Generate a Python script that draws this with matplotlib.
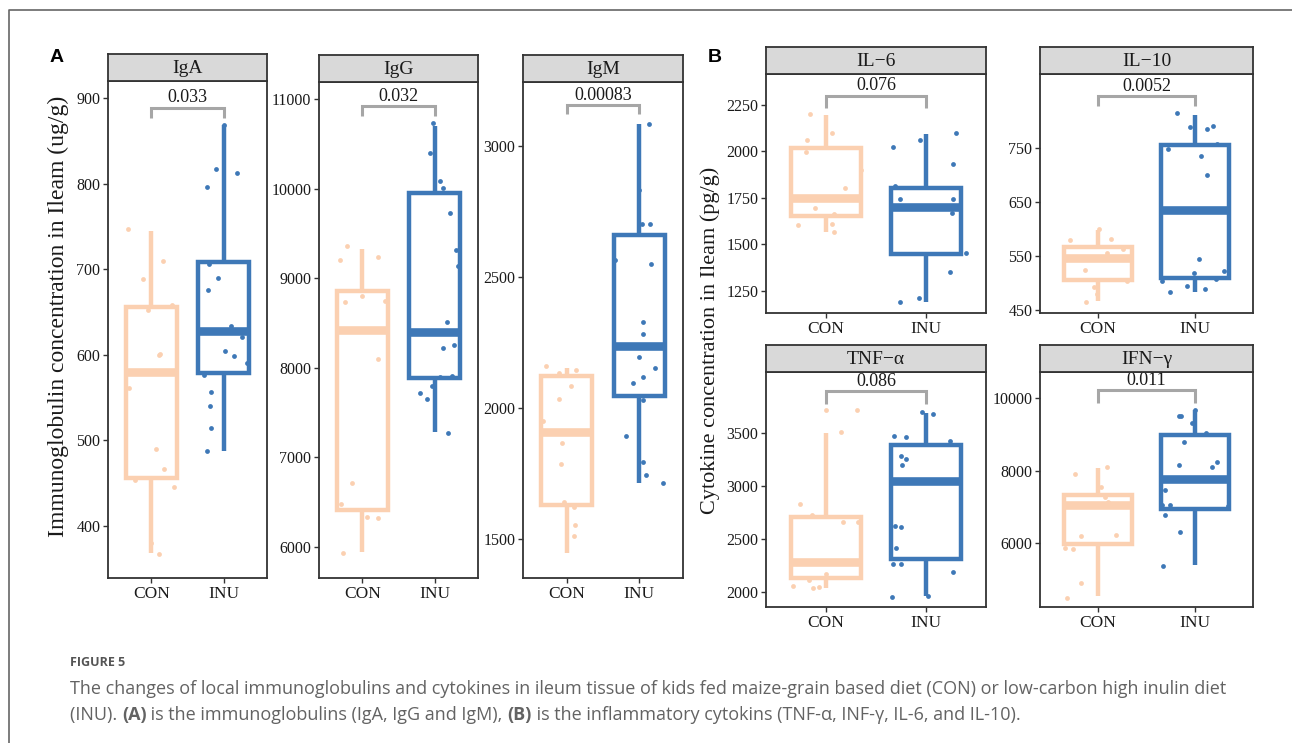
import matplotlib
matplotlib.use("Agg")
import matplotlib.pyplot as plt
from matplotlib.lines import Line2D

# ---------------- data ----------------
groups = ["CON", "INU"]

# box stats: [whislo, q1, median, q3, whishi]
iga_con_box = [368, 456, 580, 656, 745]
iga_inu_box = [488, 579, 628, 708, 868]
iga_con_pts = [747, 710, 688, 652, 658, 600, 601, 561, 490, 466, 453, 445, 380, 367]
iga_con_dx = [-0.33, 0.16, -0.12, -0.05, 0.29, 0.10, 0.12, -0.31, 0.07, 0.18, -0.23, 0.31, 0.0, 0.10]
iga_inu_pts = [868, 817, 796, 812, 706, 690, 676, 634, 621, 604, 599, 590, 576, 557, 540, 514, 487]
iga_inu_dx = [0.0, -0.10, -0.23, 0.19, -0.20, -0.08, -0.21, 0.10, 0.26, 0.02, 0.14, 0.33, -0.27, -0.17, -0.19, -0.18, -0.23]

igg_con_box = [5940, 6410, 8420, 8860, 9330]
igg_inu_box = [7280, 7890, 8400, 9950, 10700]
igg_con_pts = [9360, 9198, 9240, 8731, 8806, 8744, 8103, 6715, 6475, 6331, 6322, 5938]
igg_con_dx = [-0.21, -0.31, 0.21, -0.24, -0.01, 0.32, 0.22, -0.14, -0.30, 0.06, 0.21, -0.27]
igg_inu_pts = [10727, 10400, 10083, 10012, 9731, 9318, 9132, 8516, 8256, 8219, 7909, 7897, 7802, 7719, 7649, 7273]
igg_inu_dx = [-0.02, -0.07, 0.08, 0.11, 0.21, 0.30, 0.33, 0.17, 0.27, 0.11, 0.24, 0.07, -0.03, -0.20, -0.11, 0.18]

igm_con_box = [1446, 1630, 1907, 2123, 2154]
igm_inu_box = [1715, 2045, 2238, 2660, 3082]
igm_con_pts = [2159, 2135, 2144, 2085, 2034, 1949, 1865, 1786, 1642, 1621, 1554, 1510]
igm_con_dx = [-0.29, -0.11, 0.13, 0.06, -0.11, -0.32, -0.07, -0.08, -0.04, 0.10, 0.12, 0.10]
igm_inu_pts = [3082, 2833, 2703, 2703, 2565, 2551, 2327, 2283, 2194, 2154, 2120, 2095, 2031, 1892, 1793, 1745, 1712]
igm_inu_dx = [0.13, 0.0, 0.04, 0.14, -0.34, 0.16, 0.05, 0.05, 0.0, 0.22, 0.05, -0.09, 0.05, -0.18, 0.05, 0.09, 0.32]

il6_con_box = [1563, 1653, 1748, 2018, 2196]
il6_inu_box = [1187, 1448, 1700, 1802, 2093]
il6_con_pts = [2201, 2096, 2059, 1993, 1897, 1802, 1696, 1660, 1604, 1609, 1565]
il6_con_dx = [-0.16, 0.06, -0.19, -0.20, 0.35, 0.19, -0.11, 0.08, -0.28, 0.06, 0.08]
il6_inu_pts = [2020, 2059, 2096, 1930, 1813, 1741, 1741, 1669, 1453, 1349, 1187, 1210]
il6_inu_dx = [-0.33, -0.06, 0.30, 0.27, -0.31, -0.26, 0.27, 0.26, 0.40, 0.24, -0.26, -0.07]

il10_con_box = [467, 506, 547, 567, 599]
il10_inu_box = [483, 509, 635, 756, 812]
il10_con_pts = [580, 600, 581, 563, 556, 525, 505, 493, 480, 465]
il10_con_dx = [-0.29, 0.01, 0.13, 0.26, 0.09, -0.14, 0.30, -0.04, -0.01, -0.13]
il10_inu_pts = [814, 789, 786, 791, 758, 748, 736, 700, 544, 523, 519, 508, 504, 495, 490, 483]
il10_inu_dx = [-0.19, -0.05, 0.12, 0.19, 0.23, -0.28, 0.06, 0.13, 0.04, 0.30, -0.01, 0.22, -0.34, -0.08, 0.10, -0.26]

tnf_con_box = [2038, 2132, 2277, 2708, 3500]
tnf_inu_box = [1959, 2305, 3050, 3390, 3689]
tnf_con_pts = [3714, 3714, 3509, 2833, 2723, 2657, 2660, 2170, 2053, 2107, 2038, 2047]
tnf_con_dx = [0.0, 0.31, 0.15, -0.26, -0.14, 0.17, 0.32, 0.0, -0.33, -0.17, -0.13, -0.07]
tnf_inu_pts = [3695, 3679, 3475, 3459, 3421, 3280, 3255, 3201, 2619, 2613, 2415, 2264, 2264, 2189, 1949, 1959]
tnf_inu_dx = [-0.04, 0.07, -0.32, -0.20, 0.24, -0.25, -0.20, -0.24, -0.31, -0.25, -0.30, -0.33, -0.25, 0.27, -0.34, 0.02]

ifn_con_box = [4522, 5954, 7044, 7321, 8078]
ifn_inu_box = [5381, 6942, 7773, 8975, 9677]
ifn_con_pts = [8097, 7917, 7543, 7275, 7136, 6184, 6203, 5861, 5815, 4891, 4476]
ifn_con_dx = [0.09, -0.24, 0.03, 0.07, 0.10, -0.18, 0.19, -0.34, -0.26, -0.18, -0.32]
ifn_inu_pts = [9677, 9510, 9510, 9307, 9030, 8799, 8143, 8244, 8106, 7460, 7044, 7044, 6767, 6296, 5354, 7016]
ifn_inu_dx = [0.0, -0.16, -0.14, -0.03, 0.11, -0.11, -0.16, 0.23, 0.18, -0.31, -0.34, -0.26, -0.31, -0.15, -0.33, 0.34]

panel_titles = ["IgA", "IgG", "IgM", "IL\u22126", "IL\u221210", "TNF\u2212\u03b1", "IFN\u2212\u03b3"]
p_values = ["0.033", "0.032", "0.00083", "0.076", "0.0052", "0.086", "0.011"]
# bracket: [top y, end y]
brackets = [[889, 877], [10917, 10814], [3156, 3120], [2299, 2232], [846, 827], [3899, 3777], [10222, 9880]]
yticks = [[400, 500, 600, 700, 800, 900],
          [6000, 7000, 8000, 9000, 10000, 11000],
          [1500, 2000, 2500, 3000],
          [1250, 1500, 1750, 2000, 2250],
          [450, 550, 650, 750],
          [2000, 2500, 3000, 3500],
          [6000, 8000, 10000]]

# ---------------- layout / style ----------------
W, H = 1292, 743
CON_COL = "#FBD0B1"
INU_COL = "#3E78B7"
SERIF = ["Liberation Serif", "DejaVu Serif"]

# pixel boxes: (left, right, strip_top, strip_bottom, plot_bottom), ylim
panels = [
    dict(px=(108, 267, 54, 81, 578), ylim=(339, 920)),
    dict(px=(319, 478, 55, 82, 578), ylim=(5654, 11190)),
    dict(px=(523, 683, 55, 82, 578), ylim=(1351, 3244)),
    dict(px=(766, 986, 47, 74, 313), ylim=(1130, 2415)),
    dict(px=(1040, 1253, 47, 74, 313), ylim=(445, 887)),
    dict(px=(766, 986, 345, 372, 607), ylim=(1855, 4078)),
    dict(px=(1040, 1253, 345, 372, 607), ylim=(4215, 10735)),
]
data = [
    (iga_con_box, iga_inu_box, iga_con_pts, iga_con_dx, iga_inu_pts, iga_inu_dx),
    (igg_con_box, igg_inu_box, igg_con_pts, igg_con_dx, igg_inu_pts, igg_inu_dx),
    (igm_con_box, igm_inu_box, igm_con_pts, igm_con_dx, igm_inu_pts, igm_inu_dx),
    (il6_con_box, il6_inu_box, il6_con_pts, il6_con_dx, il6_inu_pts, il6_inu_dx),
    (il10_con_box, il10_inu_box, il10_con_pts, il10_con_dx, il10_inu_pts, il10_inu_dx),
    (tnf_con_box, tnf_inu_box, tnf_con_pts, tnf_con_dx, tnf_inu_pts, tnf_inu_dx),
    (ifn_con_box, ifn_inu_box, ifn_con_pts, ifn_con_dx, ifn_inu_pts, ifn_inu_dx),
]

fig = plt.figure(figsize=(W / 100, H / 100), dpi=100)
fig.patch.set_facecolor("white")


def frac(l, r, t, b):
    return [l / W, 1 - b / H, (r - l) / W, (b - t) / H]


for i, pan in enumerate(panels):
    l, r, st, sb, pb = pan["px"]
    ax = fig.add_axes(frac(l, r, sb, pb))
    con_box, inu_box, cp, cdx, ip, idx = data[i]
    for pos, box, col in [(1, con_box, CON_COL), (2, inu_box, INU_COL)]:
        stats = [dict(whislo=box[0], q1=box[1], med=box[2], q3=box[3], whishi=box[4], fliers=[])]
        ax.bxp(stats, positions=[pos], widths=0.7, showcaps=False, showfliers=False,
               patch_artist=True,
               boxprops=dict(facecolor="white", edgecolor=col, linewidth=3.2),
               whiskerprops=dict(color=col, linewidth=3.2, solid_capstyle="butt"),
               medianprops=dict(color=col, linewidth=6.2, solid_capstyle="butt"),
               zorder=2)
    ax.scatter([1 + d for d in cdx], cp, s=12, color=CON_COL, zorder=3, linewidths=0)
    ax.scatter([2 + d for d in idx], ip, s=12, color=INU_COL, zorder=3, linewidths=0)

    # significance bracket
    bt, be = brackets[i]
    ax.plot([1, 1, 2, 2], [be, bt, bt, be], color="#A6A6A6", lw=2.2, zorder=4,
            solid_joinstyle="miter", solid_capstyle="butt")
    ax.annotate(p_values[i], xy=(1.5, bt), xytext=(0, 1.0), textcoords="offset points",
                ha="center", va="bottom", fontsize=13, family=SERIF, color="#1a1a1a")

    ax.set_xlim(0.4, 2.6)
    ax.set_ylim(*pan["ylim"])
    ax.set_xticks([1, 2])
    ax.set_xticklabels(groups, family=SERIF, fontsize=12.5, color="#1a1a1a")
    ax.set_yticks(yticks[i])
    ax.set_yticklabels([str(v) for v in yticks[i]], family=SERIF, fontsize=11.5, color="#1a1a1a")
    ax.tick_params(length=3.5, width=1.0, color="#333333", pad=2)
    for sp in ax.spines.values():
        sp.set_color("#333333")
        sp.set_linewidth(1.3)

    # strip
    sax = fig.add_axes(frac(l, r, st, sb))
    sax.set_facecolor("#D9D9D9")
    sax.set_xticks([])
    sax.set_yticks([])
    for sp in sax.spines.values():
        sp.set_color("#333333")
        sp.set_linewidth(1.3)
    sax.text(0.5, 0.45, panel_titles[i], ha="center", va="center", fontsize=14,
             family=SERIF, color="#1a1a1a", transform=sax.transAxes)

# y-axis titles
fig.text(58 / W, 1 - 316 / H, "Immunoglobulin concentration in Ileam (ug/g)", rotation=90,
         ha="center", va="center", fontsize=17, family=SERIF, color="#1a1a1a")
fig.text(710 / W, 1 - 340 / H, "Cytokine concentration in Ileam (pg/g)", rotation=90,
         ha="center", va="center", fontsize=16, family=SERIF, color="#1a1a1a")

# panel letters
fig.text(57 / W, 1 - 58 / H, "A", ha="center", va="center", fontsize=14, fontweight="bold",
         family=["Liberation Sans", "DejaVu Sans"])
fig.text(715 / W, 1 - 58 / H, "B", ha="center", va="center", fontsize=14, fontweight="bold",
         family=["Liberation Sans", "DejaVu Sans"])

# figure frame (left and top)
fig.add_artist(Line2D([9 / W, 9 / W, 1.0], [0.0, 1 - 10 / H, 1 - 10 / H], transform=fig.transFigure,
                      color="#666666", lw=1.2))

# caption
CAP = ["Open Sans", "DejaVu Sans"]
capcol = "#636363"
CAPSIZE = 13.0
fig.text(70 / W, 1 - 663 / H, "FIGURE 5", ha="left", va="center", fontsize=9, fontweight="bold",
         family=CAP, color="#555555")
fig.text(70 / W, 1 - 689 / H,
         "The changes of local immunoglobulins and cytokines in ileum tissue of kids fed maize-grain based diet (CON) or low-carbon high inulin diet",
         ha="left", va="center", fontsize=CAPSIZE, family=CAP, color=capcol)
pieces = [("(INU). ", "normal"), ("(A)", "bold"),
          (" is the immunoglobulins (IgA, IgG and IgM), ", "normal"), ("(B)", "bold"),
          (" is the inflammatory cytokins (TNF-\u03b1, INF-\u03b3, IL-6, and IL-10).", "normal")]
anchor = fig.text(70 / W, 1 - 715 / H, pieces[0][0], ha="left", va="center", fontsize=CAPSIZE,
                  family=CAP, color=capcol, fontweight=pieces[0][1])
for txt, wt in pieces[1:]:
    anchor = fig.axes[0].annotate(txt, xy=(1, 0.5), xycoords=anchor, ha="left", va="center",
                                  fontsize=CAPSIZE, family=CAP, color=capcol, fontweight=wt,
                                  annotation_clip=False)

fig.savefig("out.png", dpi=100, facecolor="white")
